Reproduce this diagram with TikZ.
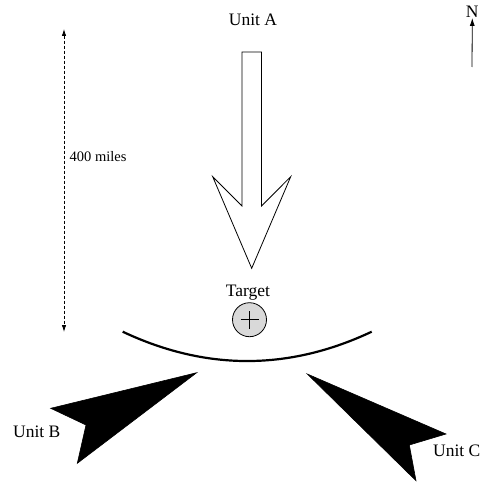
\documentclass[tikz,border=0pt]{standalone}
\usepackage{fontspec}
\setmainfont{Liberation Serif}
\usetikzlibrary{arrows.meta}
\begin{document}
\begin{tikzpicture}[x=1pt,y=-1pt,
  lbl/.style={inner sep=0pt,font=\fontsize{17.5}{20}\selectfont},
  smalllbl/.style={inner sep=0pt,font=\fontsize{14.5}{17}\selectfont},
  unitshape/.style={fill=black,draw=black,line width=0.6pt,line join=miter},
  dimline/.style={densely dashed,line width=0.8pt,{Latex[length=7pt,width=4.5pt]}-{Latex[length=7pt,width=4.5pt]}},
  northarrow/.style={line width=0.8pt,-{Latex[length=8pt,width=5pt]}}]
\useasboundingbox (0,0) rectangle (482,484);
% Unit A
\node[lbl] (unitA) at (253,20) {Unit A};
\coordinate (a1) at (242,52);
\coordinate (a2) at (261.5,52);
\coordinate (a3) at (261.5,206);
\coordinate (a4) at (290.7,176.7);
\coordinate (a5) at (251.7,268.3);
\coordinate (a6) at (212.7,176.7);
\coordinate (a7) at (242,206);
\draw[line width=0.8pt,line join=miter,fill=white] (a1) -- (a2) -- (a3) -- (a4) -- (a5) -- (a6) -- (a7) -- cycle;
% Target
\node[lbl] (target) at (248,293) {Target};
\node[circle,draw=black,line width=0.8pt,fill=black!15,minimum size=34pt,inner sep=0pt] (tc) at (249.5,319.7) {};
\draw[line width=0.8pt] ([xshift=-9pt]tc.center) -- ([xshift=9pt]tc.center);
\draw[line width=0.8pt] ([yshift=-9pt]tc.center) -- ([yshift=9pt]tc.center);
% arc
\coordinate (arcL) at (122.7,331.7);
\coordinate (arcR) at (371.7,331.7);
\draw[line width=2.2pt] (arcL) .. controls (205.7,370.8) and (288.7,370.8) .. (arcR);
% distance
\coordinate (dtop) at (64,29);
\coordinate (dbot) at (64,332);
\draw[dimline] (dtop) -- (dbot);
\node[smalllbl,anchor=west] (dist) at (69.5,157) {400 miles};
% north
\node[lbl,inner sep=0pt] (N) at (472.3,12) {N};
\coordinate (nbot) at (472,67);
\draw[northarrow] (nbot) -- (N.south);
% Unit B
\coordinate (b1) at (196.7,372.7);
\coordinate (b2) at (50.7,408.3);
\coordinate (b3) at (86,425);
\coordinate (b4) at (77.3,463.3);
\fill[unitshape] (b1) -- (b2) -- (b3) -- (b4) -- cycle;
\node[lbl] (unitB) at (36.7,431.7) {Unit B};
% Unit C
\coordinate (c1) at (307.3,374);
\coordinate (c2) at (446,434);
\coordinate (c3) at (409.3,445);
\coordinate (c4) at (416,480.7);
\fill[unitshape] (c1) -- (c2) -- (c3) -- (c4) -- cycle;
\node[lbl] (unitC) at (456.7,451) {Unit C};
\end{tikzpicture}
\end{document}
